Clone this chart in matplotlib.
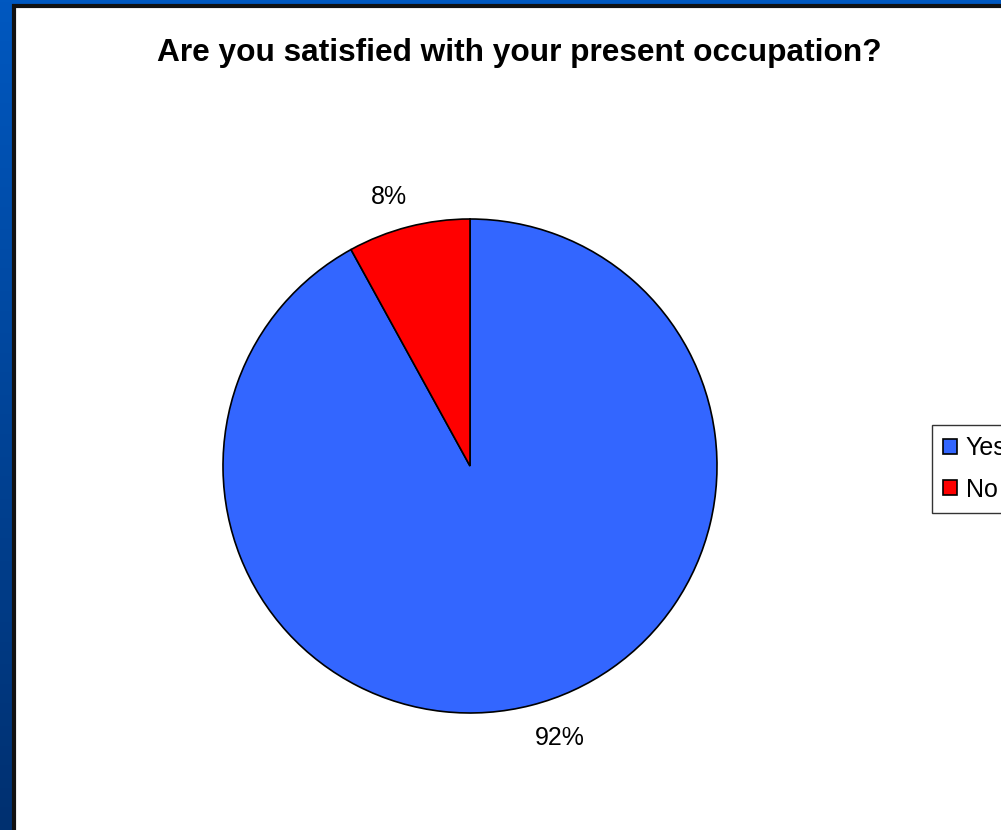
import numpy as np
import matplotlib.pyplot as plt
from matplotlib.patches import Rectangle
from matplotlib.colors import LinearSegmentedColormap

labels = ['Yes', 'No']
values = [92, 8]
colors = ['#3366FF', '#FF0000']
title = 'Are you satisfied with your present occupation?'

plt.rcParams['font.family'] = ['Liberation Sans', 'DejaVu Sans']

W, H = 1001, 830
fig = plt.figure(figsize=(W / 100, H / 100), dpi=100)
fig.patch.set_facecolor('white')

# blue slide background strip on the left and top
bg = fig.add_axes([0, 0, 1, 1])
grad = np.linspace(0, 1, 256).reshape(-1, 1)
cmap = LinearSegmentedColormap.from_list('bg', ['#0058c0', '#003070'])
bg.imshow(grad, aspect='auto', cmap=cmap, extent=[0, 1, 0, 1], origin='upper')
bg.set_xlim(0, 1)
bg.set_ylim(0, 1)
bg.axis('off')
bg.add_patch(Rectangle((14 / W, -0.01), 1.0, 1 - 6 / H + 0.01,
                       facecolor='white', edgecolor='#111111', lw=3))

R = 247
ax = fig.add_axes([(470 - R) / W, (H - 466 - R) / H, 2 * R / W, 2 * R / H])
wedges, texts, autotexts = ax.pie(
    values, colors=colors, startangle=90, counterclock=False,
    autopct='%1.0f%%', pctdistance=1.15,
    wedgeprops=dict(edgecolor='black', linewidth=1.2),
    textprops=dict(fontsize=18))
ax.set_xlim(-1, 1)
ax.set_ylim(-1, 1)
ax.set_aspect('equal')

# small nudges so the labels sit where Excel put them
nudges = [(19, 3), (-10, -6)]
for t, (dx, dy) in zip(autotexts, nudges):
    x, y = t.get_position()
    t.set_position((x + dx / R, y + dy / R))

fig.text(519 / W, 1 - 53 / H, title, ha='center', va='center',
         fontsize=22.8, fontweight='bold')

leg = fig.legend(wedges, labels, loc='upper left',
                 bbox_to_anchor=(932 / W, 1 - 425 / H), fontsize=18,
                 frameon=True, fancybox=False, handlelength=0.55,
                 handleheight=0.55, handletextpad=0.35, borderpad=0.45,
                 labelspacing=0.7, borderaxespad=0)
leg.get_frame().set_edgecolor('black')
leg.get_frame().set_linewidth(1)

fig.savefig('out.png', dpi=100)
